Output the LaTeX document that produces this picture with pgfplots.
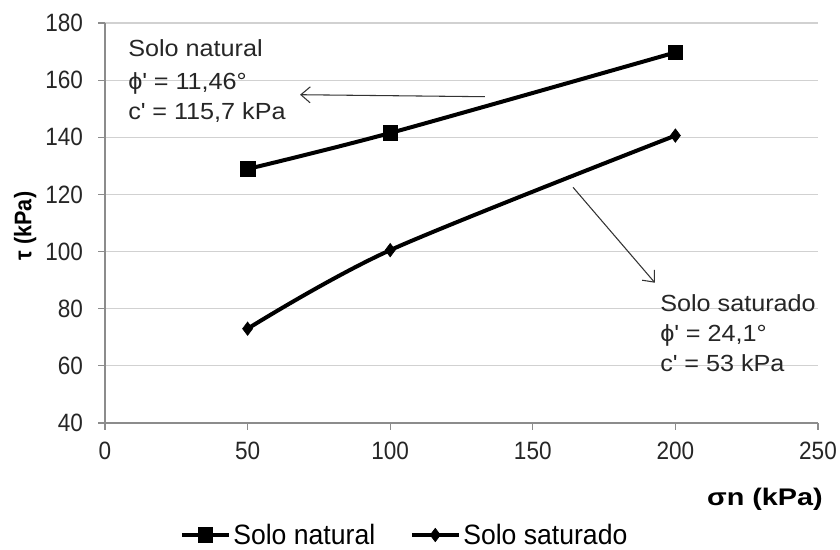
\documentclass[border=0pt]{standalone}
\usepackage{fontspec}
\setmainfont[FakeStretch=0.9]{Liberation Sans}
\newfontfamily\annfont[FakeStretch=1.08]{Liberation Sans}
\newfontfamily\labfont[FakeStretch=1.2]{Liberation Sans}
\newfontfamily\legfont[FakeStretch=0.95]{Liberation Sans}
\usepackage{pgfplots}
\pgfplotsset{compat=1.18}
\usetikzlibrary{arrows.meta}
\begin{document}
\begin{tikzpicture}[x=1pt,y=1pt]
\useasboundingbox (-78.75,-95.25) rectangle (551.25,317.25);
\begin{axis}[
  at={(0,0)}, anchor=south west,
  scale only axis, width=534.75pt, height=300pt,
  xmin=0, xmax=250, ymin=40, ymax=180,
  xtick={0,50,...,250}, ytick={40,60,...,180},
  axis lines=left, axis line style={-, draw=black!45, line width=0.8pt},
  ymajorgrids, grid style={black!18, line width=0.8pt},
  tick style={draw=black!45, line width=0.8pt},
  tick align=outside, major tick length=5pt,
  /pgf/number format/assume math mode=true,
  ticklabel style={font=\fontsize{18.8}{21}\selectfont, text=black!85},
  yticklabel style={xshift=-8pt},
  xticklabel style={yshift=-6pt},
  xlabel={\labfont\bfseries σn (kPa)},
  xlabel style={at={(axis description cs:1.0133,-0.19)}, anchor=east, font=\fontsize{18}{20}\selectfont},
  ylabel={\bfseries τ (kPa)},
  ylabel style={at={(axis description cs:-0.112,0.4925)}, anchor=center, rotate=0, font=\fontsize{18}{20}\selectfont},
  legend style={at={(axis description cs:0.4208,-0.28)}, anchor=center, draw=none, fill=none,
    legend columns=2, font=\legfont\fontsize{21}{24}\selectfont, inner xsep=0pt,
    /tikz/every even column/.append style={column sep=24pt}},
  legend image code/.code={\draw[#1, mark repeat=2, mark phase=2] plot coordinates {(0pt,0pt) (17.5pt,0pt) (35pt,0pt)};},
  clip=false,
]
\addplot[black, line width=3pt, smooth, mark=square*, mark size=5.5pt, mark options={solid, line width=0.5pt}]
  coordinates {(50,128.9) (100,141.5) (200,169.7)};
\addlegendentry{Solo natural}
\addplot[black, line width=3pt, smooth, mark=diamond*, mark size=5pt, mark options={solid, line width=0.5pt}]
  coordinates {(50,73.0) (100,100.5) (200,140.6)};
\addlegendentry{Solo saturado}

\node[anchor=base west, font=\annfont\fontsize{17.5}{20}\selectfont, text=black!85, inner sep=0pt] at (axis cs:8.06,168.1) {Solo natural};
\node[anchor=base west, font=\annfont\fontsize{17.5}{20}\selectfont, text=black!85, inner sep=0pt] at (axis cs:8.06,156.8) {ϕ\textquotesingle\ = 11,46°};
\node[anchor=base west, font=\annfont\fontsize{17.5}{20}\selectfont, text=black!85, inner sep=0pt] at (axis cs:8.06,146.3) {c\textquotesingle\ = 115,7 kPa};
\node[anchor=base west, font=\annfont\fontsize{17.5}{20}\selectfont, text=black!85, inner sep=0pt] at (axis cs:194.6,78.9) {Solo saturado};
\node[anchor=base west, font=\annfont\fontsize{17.5}{20}\selectfont, text=black!85, inner sep=0pt] at (axis cs:194.6,68.4) {ϕ\textquotesingle\ = 24,1°};
\node[anchor=base west, font=\annfont\fontsize{17.5}{20}\selectfont, text=black!85, inner sep=0pt] at (axis cs:194.6,57.9) {c\textquotesingle\ = 53 kPa};
\draw[black!80, line width=0.8pt, -{Straight Barb[length=7pt,width=12pt]}] (axis cs:133.2,154.2) -- (axis cs:68.4,154.9);
\draw[black!80, line width=0.8pt, -{Straight Barb[length=7pt,width=12pt]}] (axis cs:164.1,122.5) -- (axis cs:192.8,89.1);
\end{axis}
\end{tikzpicture}
\end{document}
